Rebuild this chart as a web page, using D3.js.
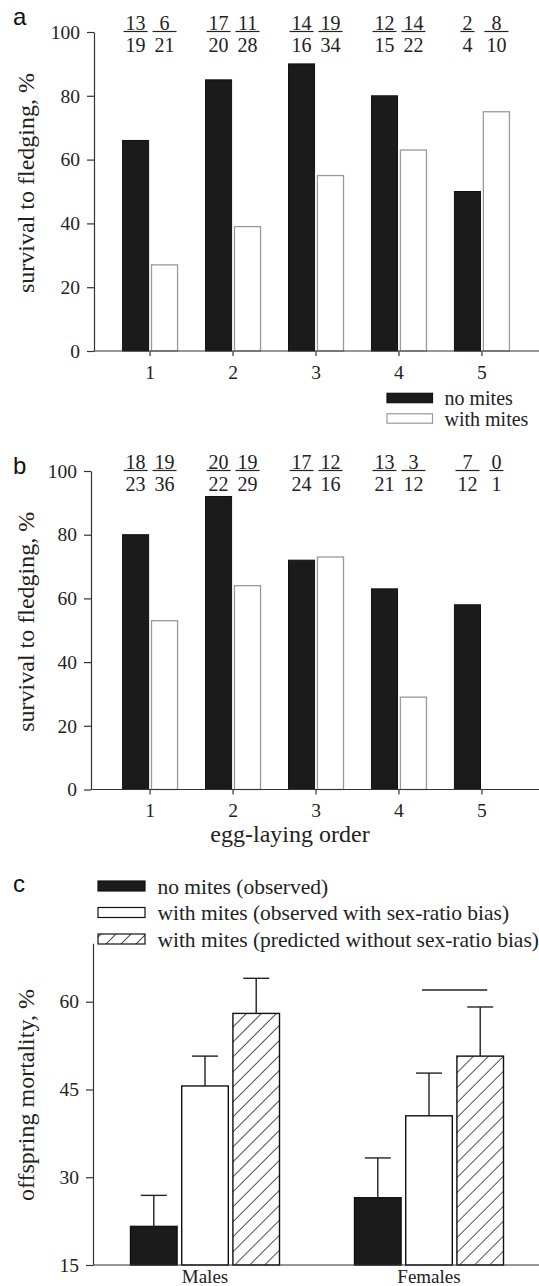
<!DOCTYPE html>
<html><head><meta charset="utf-8">
<script src="https://cdn.jsdelivr.net/npm/d3@7"></script>
<style>html,body{margin:0;padding:0;background:#fff;} svg{display:block;}</style>
</head><body>
<svg id="chart" width="539" height="1286"></svg>
<script>
// ---------- data ----------
const categories = ["1", "2", "3", "4", "5"];
const seriesAB = ["no mites", "with mites"];
const yTicksAB = [0, 20, 40, 60, 80, 100];

// panel a
const aNoMites   = [66, 85, 90, 80, 50];
const aWithMites = [27, 39, 55, 63, 75];
const aNumNo   = [13, 17, 14, 12, 2];
const aDenNo   = [19, 20, 16, 15, 4];
const aNumWith = [6, 11, 19, 14, 8];
const aDenWith = [21, 28, 34, 22, 10];

// panel b
const bNoMites   = [80, 92, 72, 63, 58];
const bWithMites = [53, 64, 73, 29, 0];
const bNumNo   = [18, 20, 17, 13, 7];
const bDenNo   = [23, 22, 24, 21, 12];
const bNumWith = [19, 19, 12, 3, 0];
const bDenWith = [36, 29, 16, 12, 1];

// panel c
const sexes = ["Males", "Females"];
const seriesC = [
  "no mites (observed)",
  "with mites (observed with sex-ratio bias)",
  "with mites (predicted without sex-ratio bias)"
];
const cMales      = [21.6, 45.6, 58.0];
const cMalesUp    = [26.9, 50.7, 64.0];
const cFemales    = [26.5, 40.5, 50.7];
const cFemalesUp  = [33.3, 47.8, 59.1];
const yTicksC = [15, 30, 45, 60];
const cSigLineValue = 62;

// ---------- setup ----------
const SERIF = "'Liberation Serif','Times New Roman',serif";
const SANS = "'Liberation Sans',Arial,sans-serif";
const INK = "#222";
const AXIS = "#333";
const svg = d3.select("#chart");
svg.append("rect").attr("width", 539).attr("height", 1286).attr("fill", "#fff");

const defs = svg.append("defs");
const HS = 10.6;
const pat = defs.append("pattern").attr("id", "hatch")
  .attr("patternUnits", "userSpaceOnUse").attr("width", HS).attr("height", HS)
  .attr("patternTransform", "rotate(45)");
pat.append("rect").attr("width", HS).attr("height", HS).attr("fill", "#fff");
pat.append("line").attr("x1", 0).attr("y1", 0).attr("x2", 0).attr("y2", HS)
  .attr("stroke", "#1a1a1a").attr("stroke-width", 1.5);

const xAB = d3.scaleBand().domain(categories).range([92, 540]).paddingInner(0).paddingOuter(0.2);
const xSub = d3.scaleBand().domain(seriesAB).range([-27.5, 27.5]).paddingInner(0.1);

function panelAB(opt) {
  const g = svg.append("g");
  const y = d3.scaleLinear().domain([0, 100]).range(opt.yRange);
  const vals = [opt.no, opt.with];
  const nums = [opt.numNo, opt.numWith];
  const dens = [opt.denNo, opt.denWith];

  // bars
  seriesAB.forEach((s, si) => {
    g.append("g").selectAll("rect").data(categories).join("rect")
      .attr("x", (c) => xAB(c) + xAB.bandwidth() / 2 + xSub(s))
      .attr("width", xSub.bandwidth())
      .attr("y", (c, i) => y(vals[si][i]))
      .attr("height", (c, i) => y(0) - y(vals[si][i]))
      .attr("fill", si === 0 ? "#1b1b1b" : "#fff")
      .attr("stroke", si === 0 ? "#111" : "#999")
      .attr("stroke-width", si === 0 ? 1 : 1.3)
      .attr("display", (c, i) => vals[si][i] > 0 ? null : "none");
  });

  // y axis
  const ya = g.append("g").attr("transform", `translate(${opt.axisX},0)`)
    .call(d3.axisLeft(y).tickValues(yTicksAB).tickSize(7).tickPadding(7).tickSizeOuter(0));
  ya.select(".domain").attr("stroke", AXIS).attr("stroke-width", 1.2);
  ya.selectAll(".tick line").attr("stroke", AXIS).attr("stroke-width", 1.2);
  ya.selectAll("text").attr("font-family", SERIF).attr("font-size", 19.5).attr("fill", INK);

  // x axis
  const xa = g.append("g").attr("transform", `translate(0,${y(0)})`)
    .call(d3.axisBottom(xAB).tickSize(5).tickPadding(0).tickSizeOuter(0));
  xa.select(".domain").remove();
  xa.selectAll(".tick line").attr("stroke", AXIS).attr("stroke-width", 1.2);
  xa.selectAll("text").attr("font-family", SERIF).attr("font-size", 19.5).attr("fill", INK)
    .attr("dy", null).attr("y", 27.5);
  g.append("line").attr("x1", opt.axisX).attr("x2", 539).attr("y1", y(0)).attr("y2", y(0))
    .attr("stroke", AXIS).attr("stroke-width", 1.2);

  // fractions
  seriesAB.forEach((s, si) => {
    categories.forEach((c, i) => {
      const cx = xAB(c) + xAB.bandwidth() / 2 + xSub(s) + xSub.bandwidth() / 2;
      const top = y(100);
      const fg = g.append("g");
      const t1 = fg.append("text").attr("x", cx).attr("y", top - 2.5).attr("text-anchor", "middle")
        .attr("font-family", SERIF).attr("font-size", 20).attr("fill", INK).text(nums[si][i]);
      const t2 = fg.append("text").attr("x", cx).attr("y", top + 20).attr("text-anchor", "middle")
        .attr("font-family", SERIF).attr("font-size", 20).attr("fill", INK).text(dens[si][i]);
      const w = Math.max(t1.node().getComputedTextLength(), t2.node().getComputedTextLength()) + 4;
      fg.append("line").attr("x1", cx - w / 2).attr("x2", cx + w / 2)
        .attr("y1", top - 0.5).attr("y2", top - 0.5).attr("stroke", INK).attr("stroke-width", 1.2);
    });
  });

  // y title
  g.append("text")
    .attr("transform", `translate(34,${(y(0) + y(100)) / 2 - 8.5}) rotate(-90)`)
    .attr("text-anchor", "middle").attr("font-family", SERIF).attr("font-size", 24).attr("fill", INK)
    .text("survival to fledging, %");

  // panel letter
  g.append("text").attr("x", 13).attr("y", opt.letterY).attr("font-family", SANS)
    .attr("font-size", 24).attr("fill", "#111").text(opt.letter);
  return { g, y };
}

// panel a
const pa = panelAB({
  letter: "a", letterY: 25, axisX: 94, yRange: [351, 32],
  no: aNoMites, with: aWithMites, numNo: aNumNo, denNo: aDenNo, numWith: aNumWith, denWith: aDenWith
});
// legend a
const legA = svg.append("g");
seriesAB.forEach((s, i) => {
  const cy = 398 + i * 20.5;
  legA.append("rect").attr("x", 387).attr("y", cy - 4.7).attr("width", 45.5).attr("height", 9.4)
    .attr("fill", i === 0 ? "#1b1b1b" : "#fff").attr("stroke", i === 0 ? "#111" : "#999").attr("stroke-width", 1.2);
  legA.append("text").attr("x", 444.5).attr("y", cy + 7.3).attr("font-family", SERIF)
    .attr("font-size", 20).attr("fill", INK).text(s);
});

// panel b
const pb = panelAB({
  letter: "b", letterY: 474, axisX: 91, yRange: [789.5, 471],
  no: bNoMites, with: bWithMites, numNo: bNumNo, denNo: bDenNo, numWith: bNumWith, denWith: bDenWith
});
svg.append("text").attr("x", 290).attr("y", 842).attr("text-anchor", "middle")
  .attr("font-family", SERIF).attr("font-size", 24).attr("fill", INK).text("egg-laying order");

// ---------- panel c ----------
const gc = svg.append("g");
const cAxisX = 93;
const yC = d3.scaleLinear().domain([15, 70]).range([1265, 943.2]);
const xC = d3.scaleBand().domain(sexes).range([93, 541]);
const xCs = d3.scaleBand().domain(seriesC).range([-74.5, 74.5]).paddingInner(0.09);
const cVals = [cMales, cFemales];
const cUps = [cMalesUp, cFemalesUp];
const cFill = ["#1b1b1b", "#fff", "url(#hatch)"];

sexes.forEach((sx, gi) => {
  const gx = xC(sx) + xC.bandwidth() / 2;
  seriesC.forEach((s, si) => {
    const x0 = gx + xCs(s);
    const cx = x0 + xCs.bandwidth() / 2;
    const v = cVals[gi][si], u = cUps[gi][si];
    gc.append("line").attr("x1", cx).attr("x2", cx).attr("y1", yC(v)).attr("y2", yC(u))
      .attr("stroke", INK).attr("stroke-width", 1.4);
    gc.append("line").attr("x1", cx - 13).attr("x2", cx + 13).attr("y1", yC(u)).attr("y2", yC(u))
      .attr("stroke", INK).attr("stroke-width", 1.4);
    gc.append("rect").attr("x", x0).attr("width", xCs.bandwidth())
      .attr("y", yC(v)).attr("height", yC(15) - yC(v))
      .attr("fill", cFill[si]).attr("stroke", "#111").attr("stroke-width", 1.4);
  });
});
// horizontal line above females' mite bars
{
  const gx = xC("Females") + xC.bandwidth() / 2;
  const c1 = gx + xCs(seriesC[1]) + xCs.bandwidth() / 2;
  const c2 = gx + xCs(seriesC[2]) + xCs.bandwidth() / 2;
  gc.append("line").attr("x1", c1 - 7).attr("x2", c2 + 7)
    .attr("y1", yC(cSigLineValue)).attr("y2", yC(cSigLineValue))
    .attr("stroke", INK).attr("stroke-width", 1.4);
}
// axes c
const yaC = gc.append("g").attr("transform", `translate(${cAxisX},0)`)
  .call(d3.axisLeft(yC).tickValues(yTicksC).tickSize(7).tickPadding(7).tickSizeOuter(0));
yaC.select(".domain").attr("stroke", AXIS).attr("stroke-width", 1.2);
yaC.selectAll(".tick line").attr("stroke", AXIS).attr("stroke-width", 1.2);
yaC.selectAll("text").attr("font-family", SERIF).attr("font-size", 19.5).attr("fill", INK);
const xaC = gc.append("g").attr("transform", `translate(0,${yC(15)})`)
  .call(d3.axisBottom(xC).tickSize(0).tickPadding(0).tickSizeOuter(0));
xaC.select(".domain").remove();
xaC.selectAll("text").attr("font-family", SERIF).attr("font-size", 19).attr("fill", INK)
  .attr("dy", null).attr("y", 18);
gc.append("line").attr("x1", cAxisX).attr("x2", 539).attr("y1", yC(15)).attr("y2", yC(15))
  .attr("stroke", AXIS).attr("stroke-width", 1.2);
gc.append("text")
  .attr("transform", `translate(34,${(yC(15) + yC(70)) / 2 - 9}) rotate(-90)`)
  .attr("text-anchor", "middle").attr("font-family", SERIF).attr("font-size", 24).attr("fill", INK)
  .text("offspring mortality, %");
gc.append("text").attr("x", 13).attr("y", 892).attr("font-family", SANS)
  .attr("font-size", 24).attr("fill", "#111").text("c");
// legend c
seriesC.forEach((s, i) => {
  const cy = 886 + i * 26.5;
  gc.append("rect").attr("x", 98).attr("y", cy - 5).attr("width", 47).attr("height", 10)
    .attr("fill", cFill[i]).attr("stroke", "#111").attr("stroke-width", 1.2);
  gc.append("text").attr("x", 157.4).attr("y", cy + 7.5).attr("font-family", SERIF)
    .attr("font-size", 21.5).attr("fill", INK).text(s);
});
</script>
</body></html>
